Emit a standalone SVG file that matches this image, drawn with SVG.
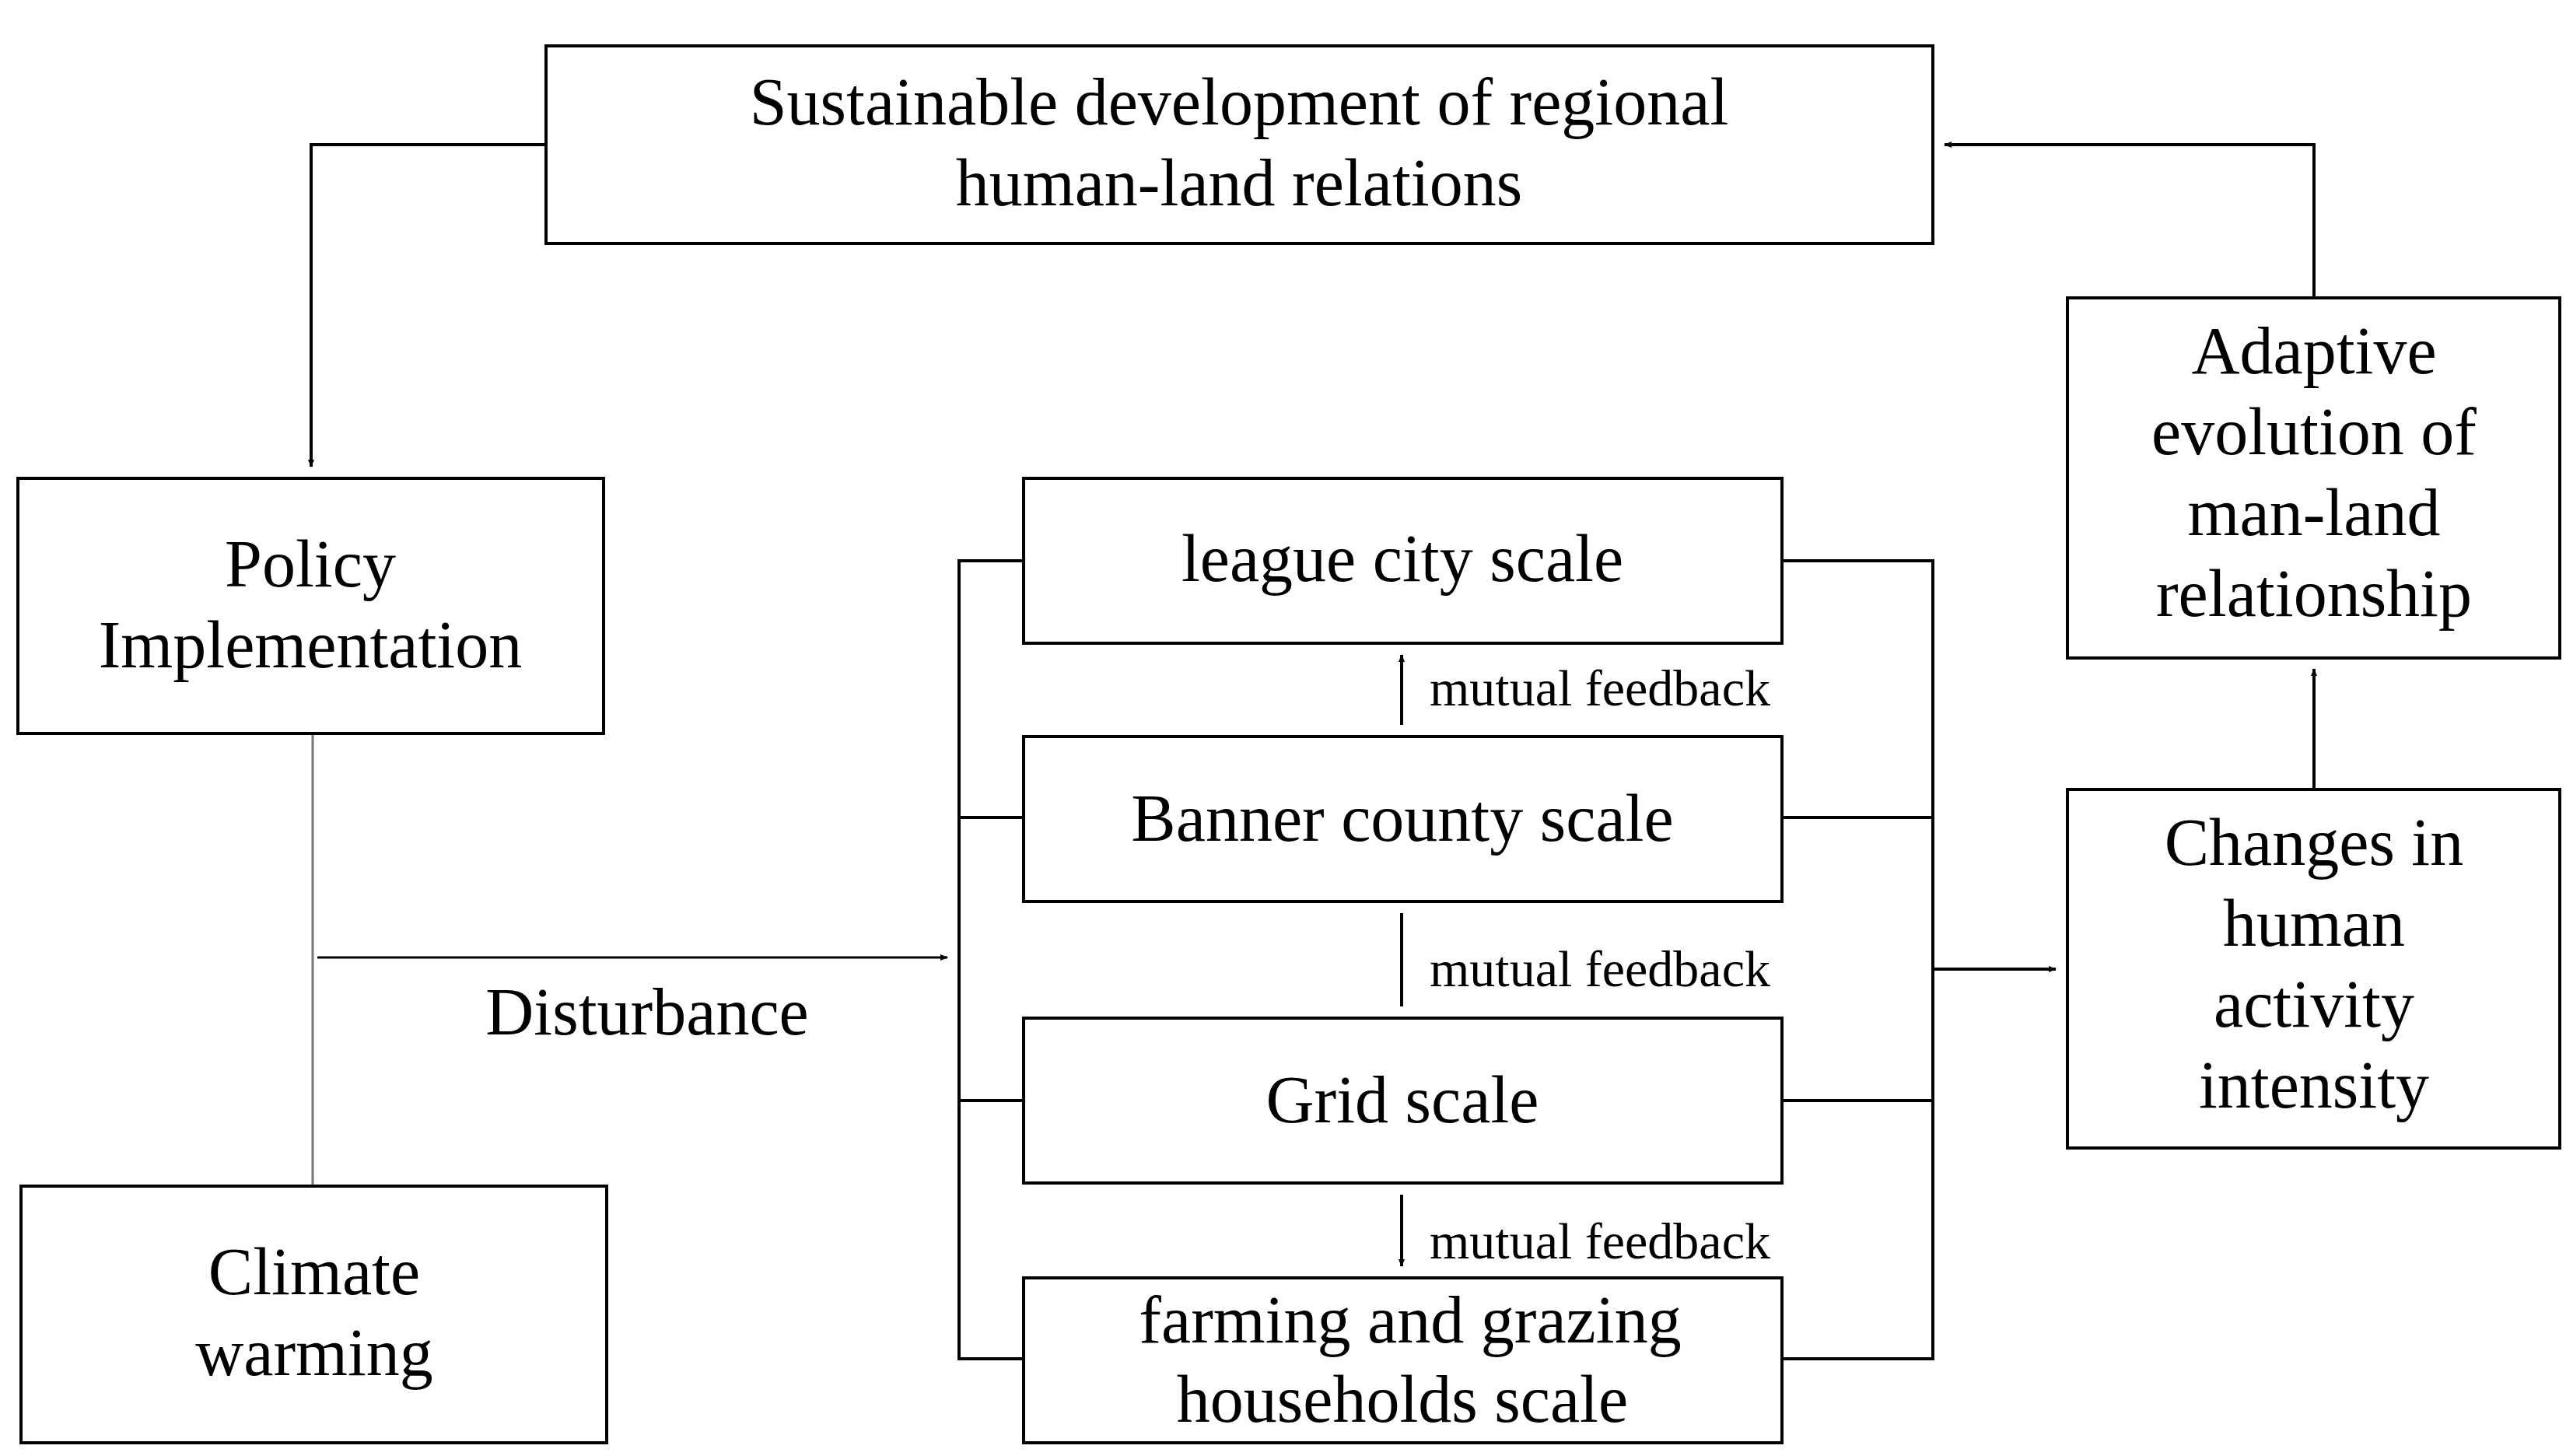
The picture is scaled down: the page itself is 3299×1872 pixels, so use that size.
<svg xmlns="http://www.w3.org/2000/svg" width="3299" height="1872" viewBox="0 0 3299 1872">
<style>
.b{fill:#fff;stroke:#000;stroke-width:4}
.t{font-family:"Liberation Serif",serif;font-size:86px;text-anchor:middle;fill:#000}
.m{font-family:"Liberation Serif",serif;font-size:66px;fill:#000}
.c{fill:none;stroke:#000;stroke-width:4}
</style>
<defs>
<marker id="a" markerWidth="10" markerHeight="8" refX="9" refY="4" orient="auto-start-reverse" markerUnits="userSpaceOnUse" viewBox="0 0 10 8"><path d="M0,0L10,4L0,8z"/></marker>
</defs>
<rect width="3299" height="1872" fill="#fff"/>
<g id="connectors">
<path class="c" d="M702,186H400V600" marker-end="url(#a)" style="stroke-width:4"/>
<path class="c" d="M2975,383V186H2500" marker-end="url(#a)"/>
<path class="c" d="M2975,1015V860" marker-end="url(#a)"/>
<path class="c" d="M402,943V1525" style="stroke:#777;stroke-width:3"/>
<path class="c" d="M408,1231H1218" marker-end="url(#a)" style="stroke-width:3"/>
<path class="c" d="M1316,721H1233V1747H1316M1233,1051H1316M1233,1415H1316"/>
<path class="c" d="M2291,721H2485V1747H2291M2485,1051H2291M2485,1415H2291"/>
<path class="c" d="M2485,1246H2643" marker-end="url(#a)"/>
<path class="c" d="M1802,842V932M1802,1174V1294M1802,1536V1628" marker-start="url(#a)" marker-end="url(#a)"/>
</g>
<g id="top"><rect class="b" x="702" y="59" width="1783" height="254"/><text class="t" x="1593" y="160">Sustainable development of regional</text><text class="t" x="1593" y="264">human-land relations</text></g>
<g id="policy"><rect class="b" x="23" y="615" width="753" height="328"/><text class="t" x="399" y="754">Policy</text><text class="t" x="399" y="858">Implementation</text></g>
<g id="climate"><rect class="b" x="27" y="1525" width="753" height="330"/><text class="t" x="404" y="1664">Climate</text><text class="t" x="404" y="1768">warming</text></g>
<text class="t" x="832" y="1330">Disturbance</text>
<g id="league"><rect class="b" x="1316" y="615" width="975" height="212"/><text class="t" x="1803" y="747">league city scale</text></g>
<g id="banner"><rect class="b" x="1316" y="947" width="975" height="212"/><text class="t" x="1803" y="1081">Banner county scale</text></g>
<g id="grid"><rect class="b" x="1316" y="1309" width="975" height="212"/><text class="t" x="1803" y="1443">Grid scale</text></g>
<g id="farming"><rect class="b" x="1316" y="1643" width="975" height="212"/><text class="t" x="1813" y="1726">farming and grazing</text><text class="t" x="1803" y="1828">households scale</text></g>
<text class="m" x="1838" y="907">mutual feedback</text>
<text class="m" x="1838" y="1268">mutual feedback</text>
<text class="m" x="1838" y="1618">mutual feedback</text>
<g id="adaptive"><rect class="b" x="2658" y="383" width="633" height="463"/><text class="t" x="2975" y="480">Adaptive</text><text class="t" x="2975" y="584">evolution of</text><text class="t" x="2975" y="688">man-land</text><text class="t" x="2975" y="792">relationship</text></g>
<g id="changes"><rect class="b" x="2658" y="1015" width="633" height="461"/><text class="t" x="2975" y="1112">Changes in</text><text class="t" x="2975" y="1216">human</text><text class="t" x="2975" y="1320">activity</text><text class="t" x="2975" y="1424">intensity</text></g>
</svg>
